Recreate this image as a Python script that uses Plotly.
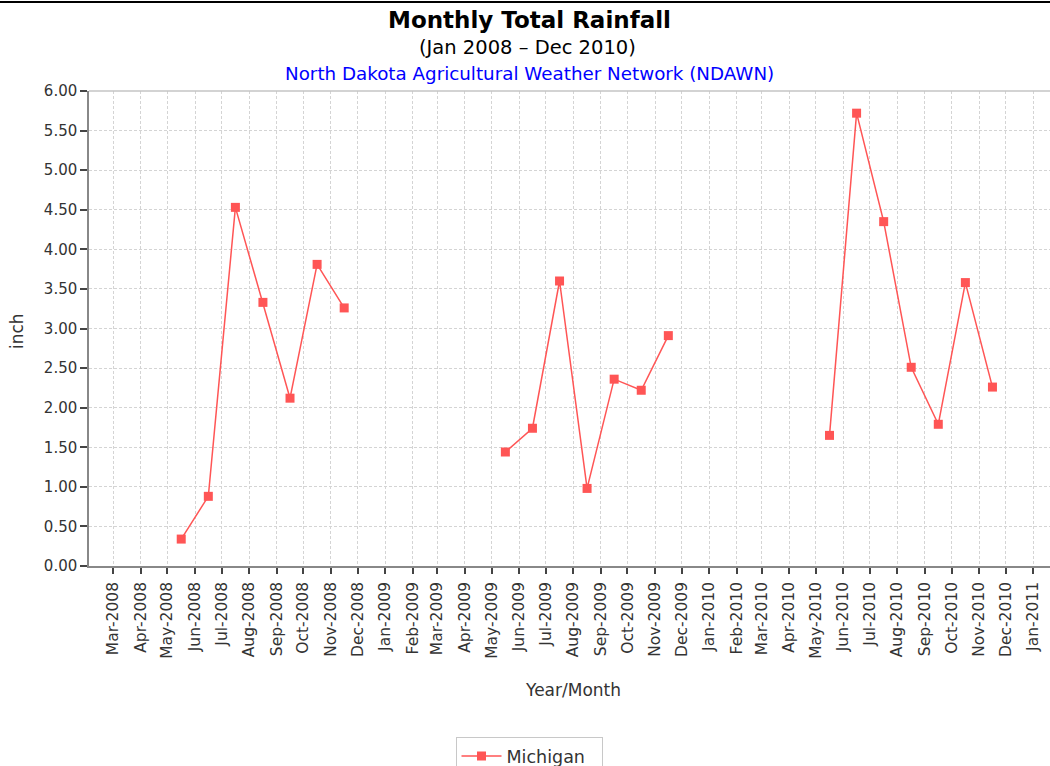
import pandas as pd
import plotly.graph_objects as go

# ---- data ----
months = pd.period_range("2008-01", "2010-12", freq="M").strftime("%Y-%m").tolist()
rain_2008 = [None, None, None, None, 0.34, 0.88, 4.53, 3.33, 2.12, 3.81, 3.26, None]
rain_2009 = [None, None, None, None, 1.44, 1.74, 3.60, 0.98, 2.36, 2.22, 2.91, None]
rain_2010 = [None, None, None, None, 1.65, 5.72, 4.35, 2.51, 1.79, 3.58, 2.26, None]
values = rain_2008 + rain_2009 + rain_2010
series_name = "Michigan"

title = "Monthly Total Rainfall"
subtitle = "(Jan 2008 \u2013 Dec 2010)"
source = "North Dakota Agricultural Weather Network (NDAWN)"
y_label = "inch"
x_label = "Year/Month"

# JFreeChart plots monthly periods at the middle of the month
def mid_month(m):
    p = pd.Period(m, freq="M")
    s = p.start_time
    e = (p + 1).start_time
    return s + (e - s) / 2

x_dates = [mid_month(m) for m in months]

FONT = "DejaVu Sans"
RED = "#ff5555"

fig = go.Figure()
fig.add_trace(go.Scatter(
    x=x_dates, y=values, mode="lines+markers", name=series_name,
    line=dict(color=RED, width=1.5),
    marker=dict(symbol="square", size=9, color=RED),
    connectgaps=False,
))

x_range = ["2008-02-02 15:20", "2011-01-19 19:00"]

def py(pix):  # pixel row -> paper y
    return (566 - pix) / 475

def px(pix):  # pixel column -> paper x
    return (pix - 89) / 961

# figure is taller than the 766px window; the page clips the bottom (legend box runs off the edge)
fig.update_layout(
    width=1050, height=790,
    margin=dict(l=89, r=0, t=91, b=224),
    paper_bgcolor="white", plot_bgcolor="white",
    font=dict(family=FONT, color="#444444"),
    showlegend=True,
    legend=dict(
        orientation="h", x=px(529), xanchor="center", y=py(737), yanchor="top",
        bordercolor="#c8c8c8", borderwidth=1, entrywidth=90, itemwidth=40,
        font=dict(family=FONT, size=17.5, color="#333333"),
    ),
    xaxis=dict(
        type="date", range=x_range,
        tick0="2008-01-01", dtick="M1", tickformat="%b-%Y",
        tickangle=-90, tickfont=dict(family=FONT, size=15.5, color="#333333"),
        ticks="outside", ticklen=6, tickwidth=1.5, tickcolor="#444444",
        ticklabelstandoff=2,
        showline=True, linecolor="#888888", linewidth=1.5,
        showgrid=True, gridcolor="#d4d4d4", gridwidth=1, griddash="3px,2px",
        zeroline=False,
    ),
    xaxis2=dict(
        type="date", range=x_range, overlaying="x", anchor="y",
        tick0="2008-01-01", dtick="M1", showticklabels=False,
        ticks="inside", ticklen=6, tickwidth=1.5, tickcolor="#444444",
        showgrid=False, showline=False, zeroline=False,
    ),
    yaxis=dict(
        range=[0, 6], tick0=0, dtick=0.5, tickformat=".2f",
        tickfont=dict(family=FONT, size=15, color="#333333"),
        ticks="outside", ticklen=7, tickwidth=1.5, tickcolor="#444444",
        showline=True, linecolor="#888888", linewidth=1.5,
        showgrid=True, gridcolor="#d4d4d4", gridwidth=1, griddash="3px,2px",
        zeroline=False,
    ),
    shapes=[
        dict(type="line", xref="paper", yref="paper", x0=0, x1=1, y0=1, y1=1,
             line=dict(color="#c4c4c4", width=1.5)),
        dict(type="line", xref="paper", yref="paper", x0=-0.1, x1=1, y0=py(2), y1=py(2),
             line=dict(color="black", width=2)),
    ],
    annotations=[
        dict(text="<b>" + title + "</b>", xref="paper", yref="paper",
             x=px(529), y=py(20), xanchor="center", yanchor="middle",
             showarrow=False, font=dict(family=FONT, size=23, color="black")),
        dict(text=subtitle, xref="paper", yref="paper",
             x=px(527), y=py(48), xanchor="center", yanchor="middle",
             showarrow=False, font=dict(family=FONT, size=19.5, color="black")),
        dict(text=source, xref="paper", yref="paper",
             x=px(529), y=py(73), xanchor="center", yanchor="middle",
             showarrow=False, font=dict(family=FONT, size=18.3, color="#0000ff")),
        dict(text=y_label, xref="paper", yref="paper",
             x=px(17), y=py(331), xanchor="center", yanchor="middle",
             textangle=-90, showarrow=False, font=dict(family=FONT, size=17, color="#333333")),
        dict(text=x_label, xref="paper", yref="paper",
             x=px(573), y=py(690), xanchor="center", yanchor="middle",
             showarrow=False, font=dict(family=FONT, size=17, color="#333333")),
    ],
)

fig.write_html(
    "out.html",
    config={"displayModeBar": False},
    post_script="document.body.style.margin='0px';document.body.style.overflow='hidden';",
)
